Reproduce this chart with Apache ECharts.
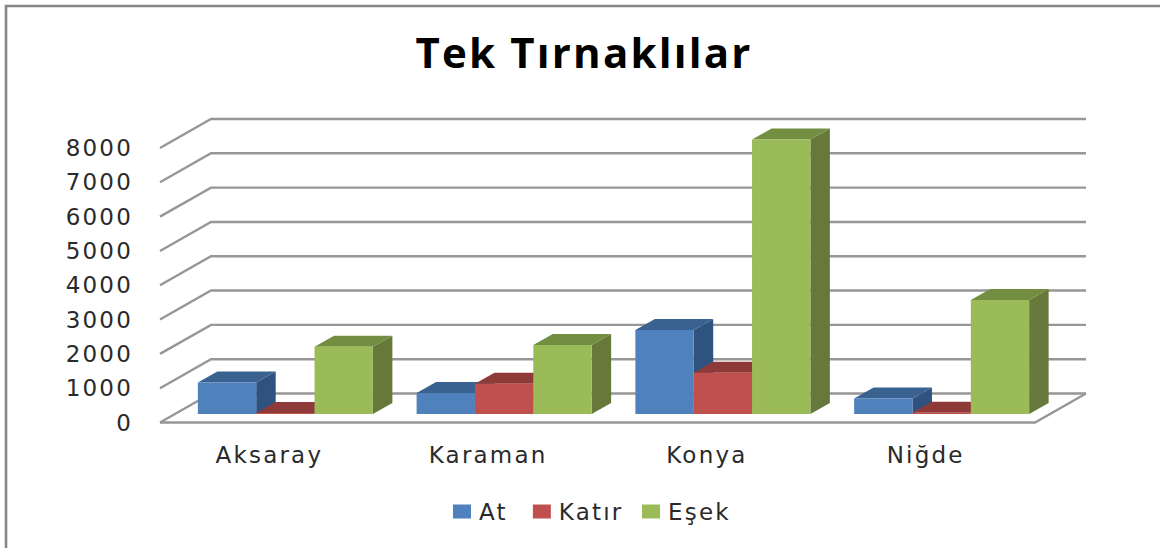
<!DOCTYPE html>
<html><head><meta charset="utf-8">
<style>html,body{margin:0;padding:0;background:#fff}#c{width:1160px;height:548px}
#c svg text{letter-spacing:2.2px}</style>
<script src="https://cdn.jsdelivr.net/npm/echarts@6/dist/echarts.min.js"></script>
</head><body><div id="c"></div>
<script>
const categories = ['Aksaray','Karaman','Konya','Niğde'];
const atValues = [920, 610, 2450, 450];
const katirValues = [30, 880, 1200, 40];
const esekValues = [1960, 2010, 8000, 3320];
const yTicks = [0,1000,2000,3000,4000,5000,6000,7000,8000];
const seriesNames = ['At','Katır','Eşek'];
const front = ['#4F81BD','#C0504D','#9BBB59'];
const topFace = ['#3A6291','#8E3A38','#748E41'];
const sideFace = ['#30527E','#7B302E','#66793A'];
const chart = echarts.init(document.getElementById('c'),null,{renderer:'svg'});

function bar(idx){
  return function(params, api){
    const cw = api.size([1,0])[0];
    const w = cw*0.2667, gx = -1.5*w + 16, gy = -8.5;
    const p = api.coord([api.value(0), api.value(1)]);
    const p0 = api.coord([api.value(0), 0]);
    const x0 = p[0]+gx+idx*w, x1 = x0+w, yt = p[1]+gy, yb = p0[1]+gy;
    const dx = 19.5, dy = -11;
    return {type:'group',children:[
      {type:'polygon',shape:{points:[[x1,yb],[x1+dx,yb+dy],[x1+dx,yt+dy],[x1,yt]]},style:{fill:sideFace[idx]}},
      {type:'polygon',shape:{points:[[x0,yt],[x1,yt],[x1+dx,yt+dy],[x0+dx,yt+dy]]},style:{fill:topFace[idx]}},
      {type:'rect',shape:{x:x0,y:yt,width:w,height:yb-yt},style:{fill:front[idx]}}
    ]};
  };
}
function wall(params, api){
  const v = api.value(0);
  const a = api.coord([0, v]);
  const cw = api.size([1,0])[0];
  const wd = cw*categories.length;
  const x = a[0]-cw/2, y = a[1];
  const pts = [[x,y],[x+51,y-29],[x+51+wd,y-29]];
  const style = {fill:null,stroke:'#979797',lineWidth:2.4};
  const kids = [{type:'polyline',shape:{points:pts},style}];
  if(v===0){
    kids.push({type:'polyline',shape:{points:[[x,y],[x+wd,y],[x+wd+51,y-29]]},style});
  }
  return {type:'group',children:kids};
}
const mk = (i,vals)=>({
  name:seriesNames[i],type:'custom',renderItem:bar(i),z:3+i,
  itemStyle:{color:front[i]},clip:false,
  data:categories.map((c,k)=>[k,vals[k]]),encode:{x:0,y:1}
});
chart.setOption({
  animation:false,
  backgroundColor:'#fff',
  title:{text:'Tek Tırnaklılar',left:584,top:30,textAlign:'center',padding:0,
    textStyle:{fontFamily:'Open Sans',fontWeight:'bold',fontSize:42,color:'#000'}},
  legend:{data:seriesNames,left:453,top:500,padding:0,itemWidth:18,itemHeight:14,itemGap:29.5,icon:'rect',
    textStyle:{fontFamily:'DejaVu Sans',fontSize:23,color:'#2a2a2a',padding:[0,0,0,3]}},
  grid:{left:160,right:125,top:148,bottom:125.5},
  xAxis:{type:'category',data:categories,axisLine:{show:false},axisTick:{show:false},
    axisLabel:{fontFamily:'DejaVu Sans',fontSize:23,color:'#2a2a2a',margin:21}},
  yAxis:{type:'value',min:0,max:8000,interval:1000,axisLine:{show:false},axisTick:{show:false},
    splitLine:{show:false},
    axisLabel:{fontFamily:'DejaVu Sans',fontSize:23,color:'#2a2a2a',margin:27,formatter:v=>String(v)}},
  series:[
    {type:'custom',renderItem:wall,silent:true,z:1,clip:false,data:yTicks.map(v=>[v]),encode:{y:0}},
    mk(0,atValues),mk(1,katirValues),mk(2,esekValues)
  ],
  graphic:[{type:'polyline',silent:true,shape:{points:[[6,548],[6,6],[1160,6]]},style:{fill:null,stroke:'#868686',lineWidth:2.6}}]
});
</script></body></html>
